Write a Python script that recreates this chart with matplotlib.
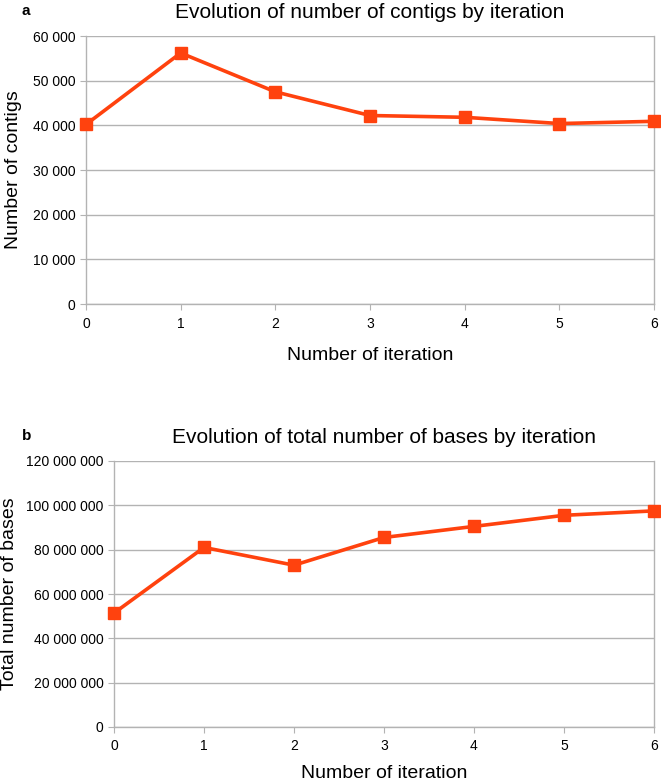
import matplotlib
matplotlib.use('Agg')
import matplotlib.pyplot as plt
from matplotlib.ticker import FuncFormatter

iterations = [0, 1, 2, 3, 4, 5, 6]
contigs = [40200, 56200, 47500, 42200, 41800, 40400, 40900]
bases = [51400000, 81000000, 73000000, 85500000, 90500000, 95500000, 97500000]

plt.rcParams['font.family'] = ['Liberation Sans', 'DejaVu Sans']

LINE = '#ff420e'
GRID = '#b3b3b3'


def space_fmt(v, pos):
    return '{:,}'.format(int(v)).replace(',', ' ')


def style_axes(ax):
    ax.grid(axis='y', color=GRID, lw=1)
    ax.set_axisbelow(True)
    ax.spines['top'].set_visible(False)
    for s in ('left', 'right', 'bottom'):
        ax.spines[s].set_color(GRID)
        ax.spines[s].set_linewidth(1)
    ax.tick_params(axis='both', colors=GRID, labelcolor='black', labelsize=10, length=4)
    ax.tick_params(axis='x', pad=5)
    ax.yaxis.set_major_formatter(FuncFormatter(space_fmt))
    ax.set_xlim(0, 6)
    ax.set_xticks(iterations)


fig = plt.figure(figsize=(6.61, 7.82), dpi=100)
W, H = 661, 782

ax1 = fig.add_axes([86 / W, 1 - 304 / H, (654 - 86) / W, (304 - 36) / H])
ax1.plot(iterations, contigs, color=LINE, lw=2.6, marker='s', ms=8, clip_on=False, zorder=3)
ax1.set_ylim(0, 60000)
ax1.set_yticks(range(0, 60001, 10000))
style_axes(ax1)
ax1.set_title('Evolution of number of contigs by iteration', fontsize=15, pad=13)
ax1.set_xlabel('Number of iteration', fontsize=14, labelpad=12)
ax1.set_ylabel('Number of contigs', fontsize=14, labelpad=8)
fig.text(22 / W, 1 - 11 / H, 'a', fontsize=11, fontweight='bold', va='center')

ax2 = fig.add_axes([114 / W, 1 - 727 / H, (654 - 114) / W, (727 - 461) / H])
ax2.plot(iterations, bases, color=LINE, lw=2.6, marker='s', ms=8, clip_on=False, zorder=3)
ax2.set_ylim(0, 120000000)
ax2.set_yticks(range(0, 120000001, 20000000))
style_axes(ax2)
ax2.set_title('Evolution of total number of bases by iteration', fontsize=15, pad=13)
ax2.set_xlabel('Number of iteration', fontsize=14, labelpad=8)
ax2.set_ylabel('Total number of bases', fontsize=14, labelpad=6)
fig.text(22 / W, 1 - 436 / H, 'b', fontsize=11, fontweight='bold', va='center')

fig.savefig('out.png', dpi=100)
